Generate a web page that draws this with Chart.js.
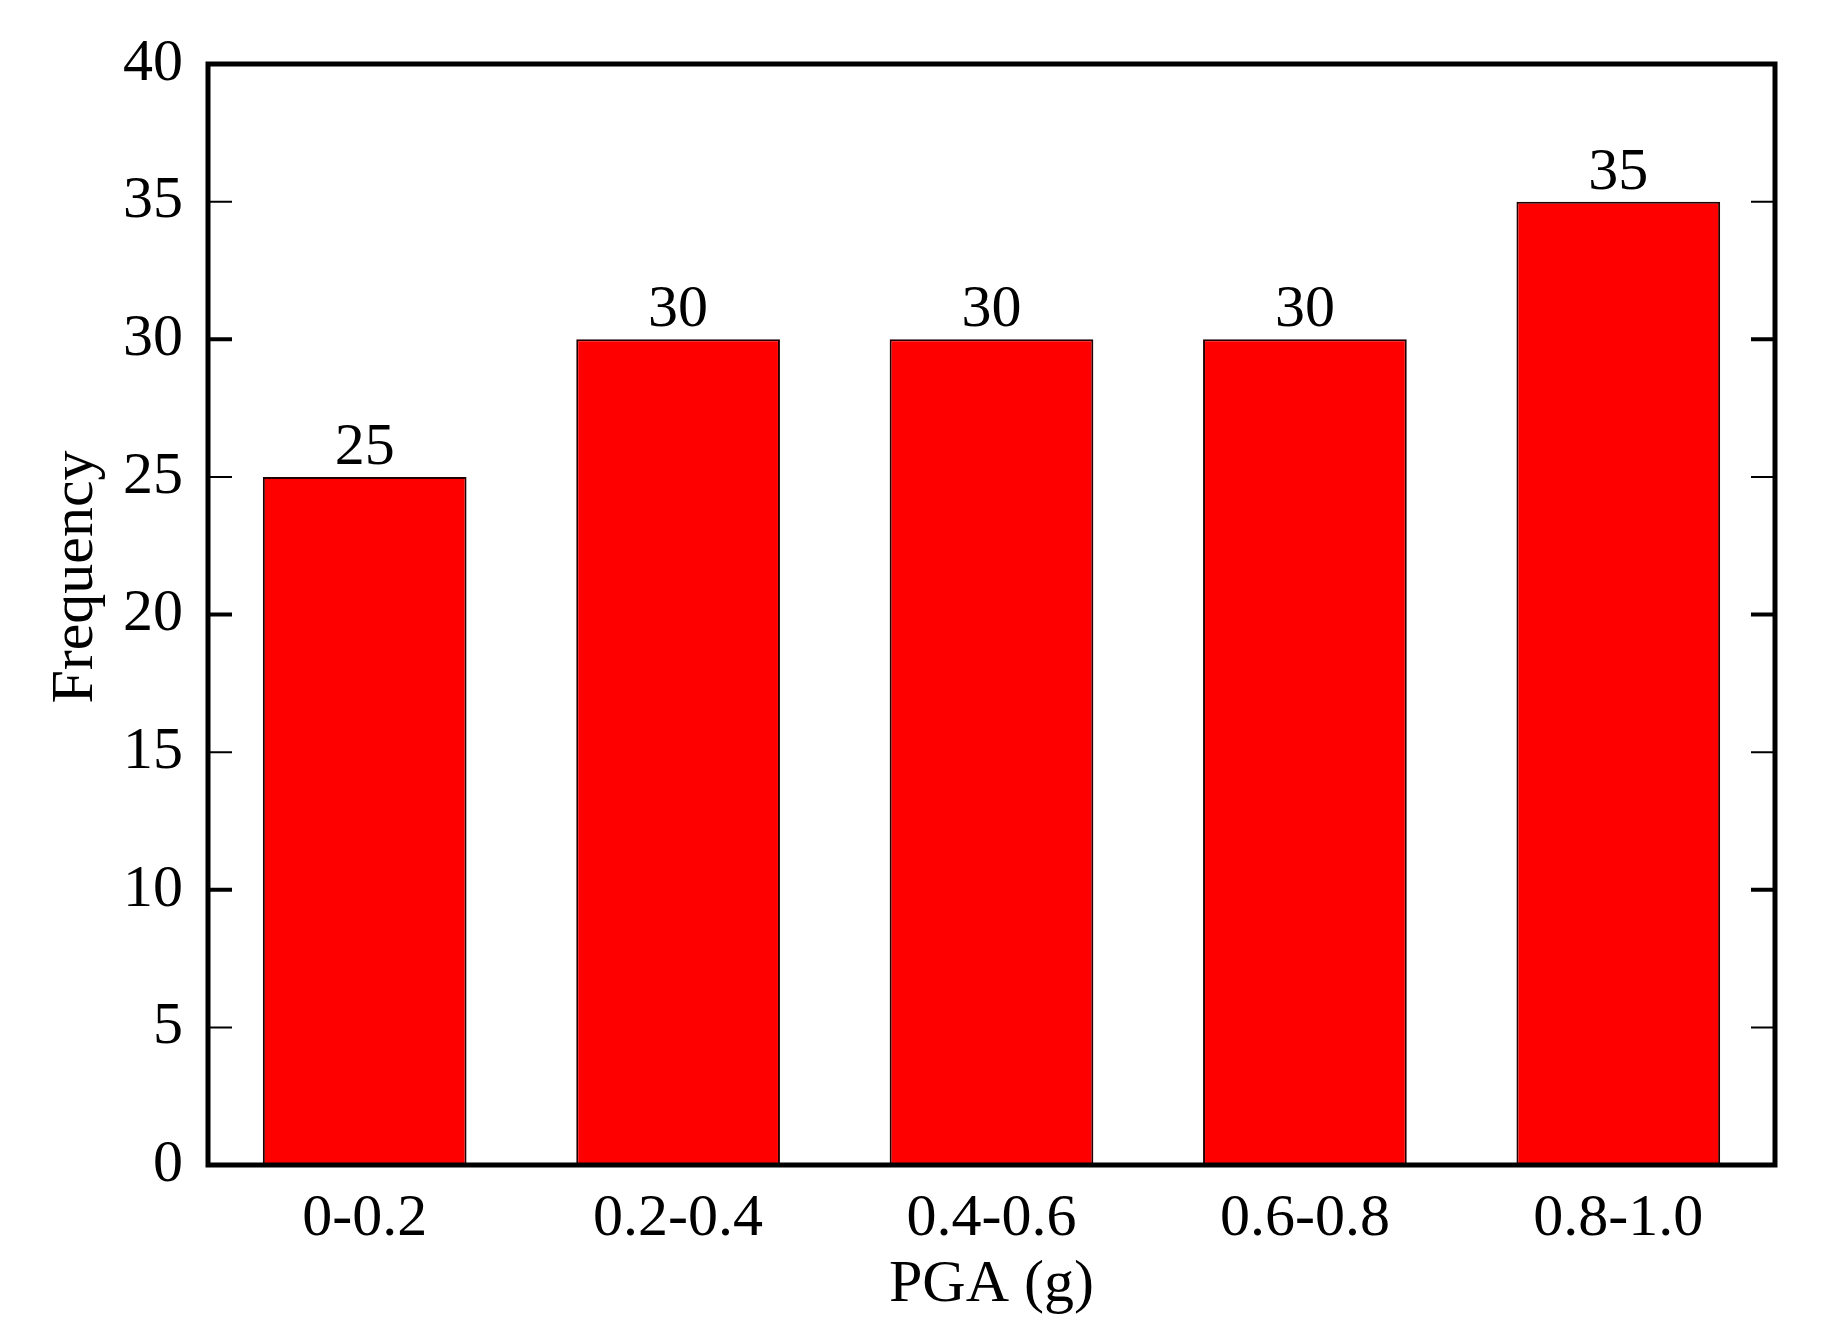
<!DOCTYPE html>
<html lang="en">
<head>
    <meta charset="UTF-8">
    <title>PGA Frequency</title>
    <script src="https://cdn.jsdelivr.net/npm/chart.js"></script>
    <style>
        html, body { margin: 0; padding: 0; background: #fff; }
        #wrap { width: 1825px; height: 1340px; }
    </style>
</head>
<body>
    <div id="wrap"><canvas id="barChart"></canvas></div>
    <script>
        // chart data
        const categories = ['0-0.2', '0.2-0.4', '0.4-0.6', '0.6-0.8', '0.8-1.0'];
        const frequency = [25, 30, 30, 30, 35];
        const yTicks = [0, 5, 10, 15, 20, 25, 30, 35, 40];

        const serif = "'Liberation Serif', 'Times New Roman', serif";

        // frame around the plot plus inward ticks on both sides
        const framePlugin = {
            id: 'frame',
            afterDraw(chart) {
                const c = chart.ctx;
                const a = chart.chartArea;
                const y = chart.scales.y;
                c.save();
                c.strokeStyle = '#000';
                yTicks.forEach(function (v) {
                    if (v === 0 || v === 40) return;
                    const py = y.getPixelForValue(v);
                    c.lineWidth = (v % 10 === 0) ? 4 : 2;
                    c.beginPath();
                    c.moveTo(a.left, py);
                    c.lineTo(a.left + 24, py);
                    c.moveTo(a.right, py);
                    c.lineTo(a.right - 24, py);
                    c.stroke();
                });
                c.lineWidth = 5;
                c.strokeRect(a.left, a.top, a.right - a.left, a.bottom - a.top);
                c.restore();
            }
        };

        // value labels above each bar
        const valuePlugin = {
            id: 'values',
            afterDatasetsDraw(chart) {
                const c = chart.ctx;
                const meta = chart.getDatasetMeta(0);
                c.save();
                c.font = '60px ' + serif;
                c.fillStyle = '#000';
                c.textAlign = 'center';
                c.textBaseline = 'alphabetic';
                meta.data.forEach(function (bar, i) {
                    c.fillText(String(frequency[i]), bar.x, bar.y - 13);
                });
                c.restore();
            }
        };

        const ctx = document.getElementById('barChart').getContext('2d');
        new Chart(ctx, {
            type: 'bar',
            data: {
                labels: categories,
                datasets: [{
                    data: frequency,
                    backgroundColor: '#ff0000',
                    borderColor: '#200000',
                    borderWidth: 2,
                    borderSkipped: false,
                    barPercentage: 0.65,
                    categoryPercentage: 1.0
                }]
            },
            options: {
                responsive: true,
                maintainAspectRatio: false,
                animation: false,
                layout: { padding: { top: 64, right: 50, bottom: 19, left: 40 } },
                plugins: {
                    legend: { display: false },
                    tooltip: { enabled: false }
                },
                scales: {
                    x: {
                        grid: { display: false, drawTicks: false },
                        border: { display: false },
                        ticks: {
                            color: '#000',
                            padding: 18,
                            font: { family: serif, size: 60 }
                        },
                        title: {
                            display: true,
                            text: 'PGA (g)',
                            color: '#000',
                            padding: { top: -24, bottom: 0 },
                            font: { family: serif, size: 60 }
                        }
                    },
                    y: {
                        min: 0,
                        max: 40,
                        grid: { display: false, drawTicks: false },
                        border: { display: false },
                        ticks: {
                            stepSize: 5,
                            color: '#000',
                            padding: 25,
                            font: { family: serif, size: 60 }
                        },
                        title: {
                            display: true,
                            text: '     Frequency',
                            color: '#000',
                            padding: { top: 0, bottom: -14 },
                            font: { family: serif, size: 60 }
                        }
                    }
                }
            },
            plugins: [framePlugin, valuePlugin]
        });
    </script>
</body>
</html>
